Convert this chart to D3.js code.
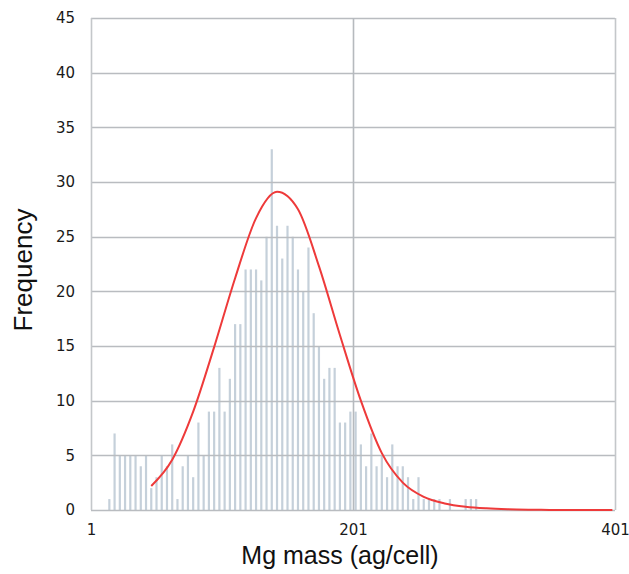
<!DOCTYPE html>
<html>
<head>
<meta charset="utf-8">
<script src="https://cdn.jsdelivr.net/npm/d3@7"></script>
<style>
  html, body { margin: 0; padding: 0; background: #ffffff; }
  svg { display: block; }
</style>
</head>
<body>
<svg id="chart" width="629" height="574"></svg>
<script>
// Histogram bins: bin position (ag/cell) and frequency count
const binStart = 15;
const binStep = 4;
const counts = [
  1, 7, 5, 5, 5, 5, 4, 5, 2, 3,
  5, 4, 6, 1, 4, 5, 3, 8, 5, 9,
  9, 13, 9, 12, 17, 17, 22, 22, 22, 21,
  25, 33, 26, 23, 26, 25, 22, 20, 24, 18,
  15, 12, 13, 13, 8, 8, 9, 9, 6, 4,
  7, 4, 5, 3, 6, 4, 4, 3, 1, 3,
  1, 1, 1, 1, 0, 1, 0, 0, 1, 1, 1
];
const binX = counts.map((_, i) => binStart + binStep * i);

// Fitted distribution curve
const fitX = [47, 63, 79, 95, 111, 127, 143, 159, 175, 191, 207, 223, 239, 255, 271, 287, 303, 319, 335, 351, 367, 383, 399];
const fitY = [2.2, 4.6, 9.0, 14.9, 21.2, 26.7, 29.1, 27.5, 22.3, 16.0, 10.0, 5.2, 2.5, 1.2, 0.6, 0.3, 0.15, 0.07, 0.03, 0.01, 0, 0, 0];

// Axis ticks
const xTicks = [1, 201, 401];
const yTicks = [0, 5, 10, 15, 20, 25, 30, 35, 40, 45];

const xTitle = "Mg mass (ag/cell)";
const yTitle = "Frequency";

const svg = d3.select("#chart");
const plot = { left: 91, right: 615, top: 18, bottom: 510 };

const x = d3.scaleLinear().domain([1, 401]).range([plot.left, plot.right]);
const y = d3.scaleLinear().domain([0, 45]).range([plot.bottom, plot.top]);

// Histogram bars (thin columns)
svg.append("g")
  .selectAll("line")
  .data(counts)
  .join("line")
  .attr("x1", (d, i) => x(binX[i]))
  .attr("x2", (d, i) => x(binX[i]))
  .attr("y1", y(0))
  .attr("y2", d => y(d))
  .attr("stroke", "#c5d0da")
  .attr("stroke-width", 2.2);

// Horizontal gridlines
svg.append("g")
  .selectAll("line")
  .data(yTicks)
  .join("line")
  .attr("x1", plot.left)
  .attr("x2", plot.right)
  .attr("y1", d => Math.round(y(d)) + 0.5)
  .attr("y2", d => Math.round(y(d)) + 0.5)
  .attr("stroke", "#b9bcc0")
  .attr("stroke-width", 1.5);

// Vertical gridlines at the x ticks
svg.append("g")
  .selectAll("line")
  .data(xTicks)
  .join("line")
  .attr("x1", d => Math.round(x(d)) + 0.5)
  .attr("x2", d => Math.round(x(d)) + 0.5)
  .attr("y1", plot.top)
  .attr("y2", plot.bottom)
  .attr("stroke", (d, i) => i === 1 ? "#b6babe" : "#c4c7ca")
  .attr("stroke-width", 1.6);

// Fitted curve
const line = d3.line()
  .x(d => x(d[0]))
  .y(d => y(d[1]))
  .curve(d3.curveMonotoneX);

svg.append("path")
  .datum(fitX.map((v, i) => [v, fitY[i]]))
  .attr("d", line)
  .attr("fill", "none")
  .attr("stroke", "#ee3a3a")
  .attr("stroke-width", 2);

// Y axis labels
const yAxis = d3.axisLeft(y).tickValues(yTicks).tickSize(0).tickPadding(16);
const gy = svg.append("g").attr("transform", `translate(${plot.left},0)`).call(yAxis);
gy.select(".domain").remove();
gy.selectAll("text")
  .attr("font-family", "'DejaVu Sans', sans-serif")
  .attr("font-size", 15)
  .attr("fill", "#1a1a1a");

// X axis labels
const xAxis = d3.axisBottom(x).tickValues(xTicks).tickSize(0).tickPadding(14).tickFormat(d3.format("d"));
const gx = svg.append("g").attr("transform", `translate(0,${plot.bottom})`).call(xAxis);
gx.select(".domain").remove();
gx.selectAll("text")
  .attr("font-family", "'DejaVu Sans', sans-serif")
  .attr("font-size", 15)
  .attr("fill", "#1a1a1a");

// Axis titles
svg.append("text")
  .attr("x", (plot.left + plot.right) / 2 - 13)
  .attr("y", 564)
  .attr("text-anchor", "middle")
  .attr("font-family", "'Liberation Sans', Arial, sans-serif")
  .attr("font-size", 25)
  .attr("fill", "#111")
  .text(xTitle);

svg.append("text")
  .attr("transform", "translate(32,270) rotate(-90)")
  .attr("text-anchor", "middle")
  .attr("font-family", "'Liberation Sans', Arial, sans-serif")
  .attr("font-size", 26)
  .attr("fill", "#111")
  .text(yTitle);
</script>
</body>
</html>
